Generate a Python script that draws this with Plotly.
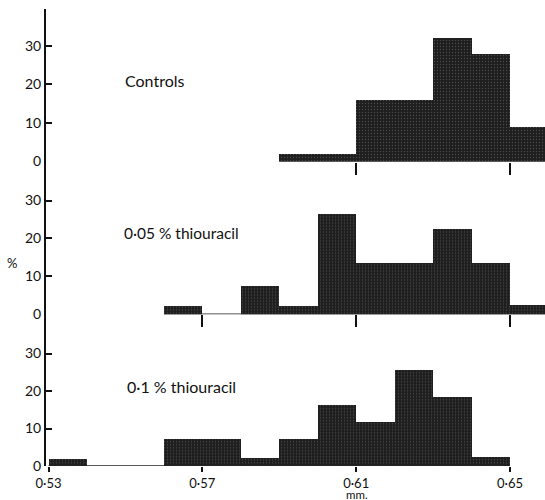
import plotly.graph_objects as go

BIN_WIDTH = 0.01

# Controls
ctrl_left = [0.59, 0.60, 0.61, 0.62, 0.63, 0.64, 0.65]
ctrl_pct = [2, 2, 16, 16, 32, 28, 9]

# 0.05 % thiouracil
t05_left = [0.56, 0.57, 0.58, 0.59, 0.60, 0.61, 0.62, 0.63, 0.64, 0.65]
t05_pct = [2.2, 0, 7.6, 2.4, 26.6, 13.6, 13.6, 22.7, 13.6, 2.5]

# 0.1 % thiouracil
t1_left = [0.53, 0.54, 0.55, 0.56, 0.57, 0.58, 0.59, 0.60, 0.61, 0.62, 0.63, 0.64]
t1_pct = [1.7, 0, 0, 7.2, 7.2, 2.1, 7.1, 16.2, 11.6, 25.4, 18.4, 2.3]

x_tickvals = [0.53, 0.57, 0.61, 0.65]
x_ticktext = ["0·53", "0·57", "0·61", "0·65"]
y_tickvals = [0, 10, 20, 30]
y_ticktext = ["0", "10", "20", "30"]

FONT = "Lato, 'Open Sans', sans-serif"
BAR_COLOR = "#1e1e1e"

panels = [
    (ctrl_left, ctrl_pct, "Controls", "y", "x"),
    (t05_left, t05_pct, "0·05 % thiouracil", "y2", "x2"),
    (t1_left, t1_pct, "0·1 % thiouracil", "y3", "x3"),
]

fig = go.Figure()
for left, pct, name, ya, xa in panels:
    fig.add_trace(go.Scatter(
        x=[left[0], left[-1] + BIN_WIDTH], y=[0, 0], mode="lines",
        line=dict(color="#222", width=1.5), xaxis=xa, yaxis=ya,
        showlegend=False, hoverinfo="skip"))
    fig.add_trace(go.Bar(
        x=left, y=pct, width=BIN_WIDTH, offset=0, name=name,
        marker=dict(color=BAR_COLOR, line=dict(width=0),
                    pattern=dict(shape=".", fgcolor="#7a7a7a", size=3, solidity=0.15)),
        xaxis=xa, yaxis=ya, showlegend=False))

xr = [0.52935, 0.6591]
common_x = dict(range=xr, showgrid=False, zeroline=False, showline=False,
                ticks="outside", tickcolor="#111", tickwidth=2)
common_y = dict(showgrid=False, zeroline=False, showline=True, linecolor="#111",
                linewidth=2, ticks="inside", ticklen=6, tickcolor="#111", tickwidth=1.5,
                tickfont=dict(family=FONT, size=14, color="#111"))

fig.update_layout(
    width=545, height=500,
    margin=dict(l=46, r=0, t=9, b=34),
    paper_bgcolor="white", plot_bgcolor="white",
    bargap=0,
    xaxis=dict(**common_x, domain=[0, 1], anchor="y", tickvals=[0.61, 0.65],
               showticklabels=False, ticklen=12),
    xaxis2=dict(**common_x, domain=[0, 1], anchor="y2", matches="x",
                tickvals=[0.57, 0.61, 0.65], showticklabels=False, ticklen=12),
    xaxis3=dict(**common_x, domain=[0, 1], anchor="y3", matches="x",
                tickvals=x_tickvals, ticktext=x_ticktext, ticklen=5,
                tickfont=dict(family=FONT, size=13, color="#111")),
    yaxis=dict(**common_y, domain=[0.6663, 1], range=[0, 39.6],
               tickvals=y_tickvals + [39.6], ticktext=y_ticktext + [""], anchor="x"),
    yaxis2=dict(**common_y, domain=[0.3319, 0.6663], range=[0, 40.3],
                tickvals=y_tickvals, ticktext=y_ticktext, anchor="x2"),
    yaxis3=dict(**common_y, domain=[0, 0.3319], range=[0, 40.45],
                tickvals=y_tickvals, ticktext=y_ticktext, anchor="x3"),
    annotations=[
        dict(text="Controls", x=0.1537, y=0.8425, xref="paper", yref="paper",
             xanchor="left", yanchor="middle", showarrow=False,
             font=dict(family=FONT, size=16, color="#111")),
        dict(text="0·05 % thiouracil", x=0.1517, y=0.5098, xref="paper", yref="paper",
             xanchor="left", yanchor="middle", showarrow=False,
             font=dict(family=FONT, size=15.5, color="#111")),
        dict(text="0·1 % thiouracil", x=0.1583, y=0.1729, xref="paper", yref="paper",
             xanchor="left", yanchor="middle", showarrow=False,
             font=dict(family=FONT, size=16, color="#111")),
        dict(text="%", x=-0.068, y=0.444, xref="paper", yref="paper",
             xanchor="center", yanchor="middle", showarrow=False,
             font=dict(family=FONT, size=13, color="#111")),
        dict(text="mm.", x=0.623, y=-0.063, xref="paper", yref="paper",
             xanchor="center", yanchor="middle", showarrow=False,
             font=dict(family=FONT, size=11.5, color="#111")),
    ],
)

fig.write_html("out.html", post_script="document.body.style.margin='0';",
               config={"displayModeBar": False})
